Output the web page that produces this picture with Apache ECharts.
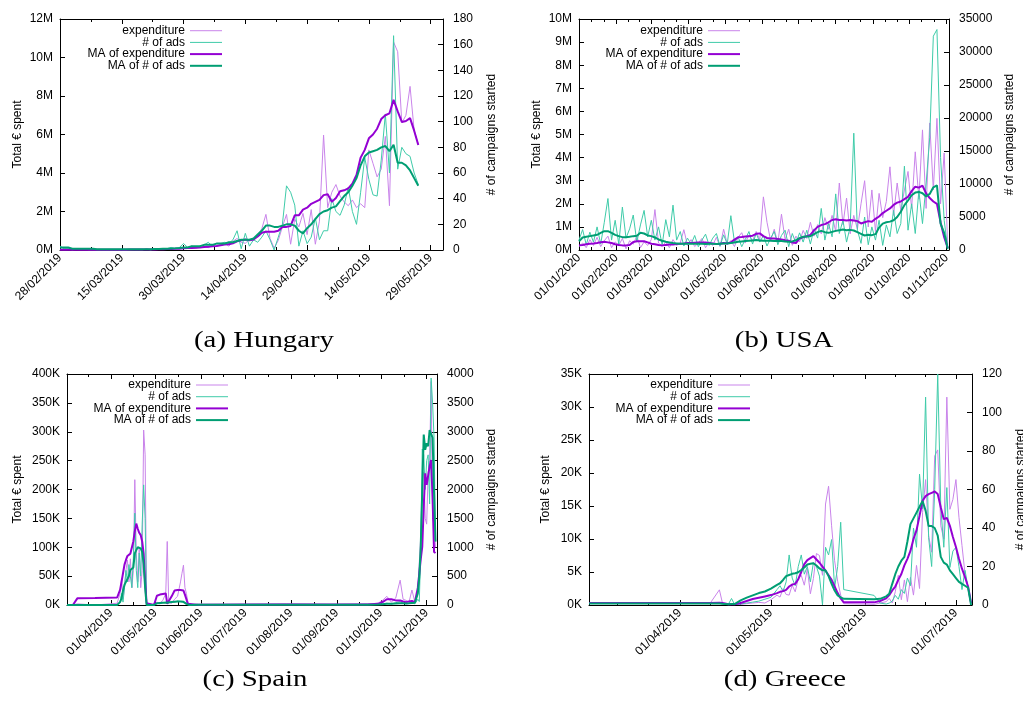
<!DOCTYPE html>
<html>
<head>
<meta charset="utf-8">
<script src="https://cdn.jsdelivr.net/npm/echarts@6/dist/echarts.min.js"></script>
<style>
  html, body { margin: 0; padding: 0; background: #fff; }
  #chart { width: 1023px; height: 711px; }
</style>
</head>
<body>
<div id="chart"></div>
<script>
// ---- (a) Hungary : daily from 28/02/2019, expenditure in M €, ads = # of campaigns
var huExp = [0.02,0.01,0.02,0.01,0.02,0.01,0.01,0.01,0.01,0.01,
  0.01,0.01,0.01,0.01,0.01,0.01,0.01,0.01,0.02,0.02,
  0.02,0.03,0.02,0.03,0.04,0.05,0.04,0.06,0.08,0.07,
  0.10,0.08,0.12,0.10,0.15,0.20,0.12,0.25,0.18,0.30,
  0.35,0.20,0.45,0.60,0.40,0.35,0.55,0.50,0.80,1.10,
  1.85,0.60,0.10,0.50,1.20,1.85,0.30,1.60,1.20,1.90,
  0.80,2.10,0.30,1.50,5.97,2.20,3.00,3.40,2.80,2.50,
  2.30,2.60,2.20,2.40,2.20,5.20,4.50,3.80,4.20,5.90,
  2.30,10.8,10.3,6.60,7.00,8.50,6.20,5.50];
var huAds = [3,1,1,0,1,1,1,0,0,0,
  0,0,0,0,0,0,0,0,0,0,
  0,1,0,1,1,1,1,2,1,2,
  5,2,3,2,3,4,6,3,5,5,
  6,5,8,15,1,13,3,8,6,10,
  15,8,0,10,20,50,45,35,3,15,
  5,10,25,8,15,15,40,30,27,35,
  49,30,20,45,72,55,43,42,70,106,
  60,167,63,80,75,73,60,51];
var huMaExp = [0.01,0.01,0.01,0.01,0.01,0.01,0.01,0.01,0.01,0.01,
  0.01,0.01,0.01,0.01,0.01,0.01,0.01,0.02,0.02,0.02,
  0.02,0.03,0.03,0.03,0.04,0.04,0.05,0.05,0.06,0.07,
  0.09,0.10,0.11,0.12,0.13,0.15,0.17,0.19,0.21,0.25,
  0.28,0.30,0.35,0.45,0.50,0.55,0.50,0.55,0.70,0.90,
  0.95,0.95,0.95,1.00,1.20,1.20,1.25,1.80,1.80,2.10,
  2.20,2.40,2.50,2.60,2.85,2.90,2.50,2.70,3.05,3.10,
  3.20,3.45,3.90,4.80,5.20,5.80,6.00,6.30,6.80,7.00,
  7.10,7.80,7.20,6.65,6.70,6.85,6.20,5.45];
var huMaAds = [2,2,2,1,1,1,1,1,1,0.5,
  0.5,0.5,0.5,0.5,0.5,0.5,0.5,0.5,0.5,0.5,
  0.5,0.5,0.5,0.8,0.8,1,1,1.2,1.3,1.5,
  2,2,3,3,3,4,4,4,5,5,
  5,6,6,7,8,8,8,9,12,15,
  19,19,18,18,19,20,20,19,15,13,
  17,20,24,28,30,31,33,34,38,42,
  45,50,56,66,73,76,77,78,80,81,
  77,82,68,68,66,62,56,50];

// ---- (b) USA : every 3rd day from 01/01/2020
var usExp = [0.15,0.30,0.10,0.45,0.20,0.55,0.15,0.40,0.60,0.10,
  0.35,0.20,0.50,0.05,0.40,0.25,0.60,0.10,0.35,0.20,
  0.45,1.75,0.30,0.15,0.35,0.10,0.45,0.20,0.30,0.88,
  0.20,0.45,0.15,0.30,0.50,0.10,0.35,0.20,0.55,0.15,
  0.90,0.25,0.40,0.15,0.55,0.75,0.30,0.65,0.40,0.80,
  0.45,2.30,1.20,0.40,0.90,0.30,1.55,0.45,0.90,0.20,
  0.60,0.35,0.85,0.50,1.20,0.60,1.10,0.70,1.40,0.90,
  1.50,0.80,2.90,1.10,2.25,0.70,1.50,0.90,2.00,3.00,
  1.00,2.60,0.80,2.45,1.40,2.10,3.60,1.50,2.90,1.70,
  2.60,3.40,1.80,4.25,2.20,5.20,1.80,5.50,2.60,5.70,
  2.00,4.20,0.10];
var usAds = [1500,3100,800,2700,1200,3500,900,4200,7800,1500,
  4500,900,6500,1800,3200,5300,1200,3800,6000,2000,
  4500,1500,3500,800,4600,2000,6800,1500,2800,600,
  1800,900,2200,500,1500,2400,700,1800,2500,600,
  2300,900,5200,1200,2000,500,1600,2800,900,2500,
  1200,2200,600,1800,2800,800,2200,3000,500,2500,
  1000,2600,1200,3000,900,3200,1800,6300,1500,4000,
  2000,8500,2500,4500,1200,3500,17700,3000,1000,5000,
  800,3500,1500,4500,700,3800,2000,6000,2500,4000,
  12700,3000,7000,2500,9000,4000,10000,17000,32400,33400,
  14000,4500,100];
var usMaExp = [0.20,0.22,0.25,0.27,0.28,0.30,0.34,0.36,0.33,0.30,
  0.25,0.22,0.20,0.20,0.22,0.35,0.38,0.38,0.38,0.33,
  0.27,0.25,0.22,0.20,0.22,0.24,0.24,0.26,0.27,0.28,
  0.30,0.30,0.31,0.32,0.32,0.32,0.30,0.28,0.26,0.27,
  0.30,0.28,0.33,0.45,0.55,0.56,0.58,0.60,0.62,0.70,
  0.72,0.60,0.52,0.50,0.50,0.48,0.46,0.42,0.40,0.32,
  0.30,0.50,0.55,0.60,0.65,0.85,1.00,1.08,1.12,1.20,
  1.30,1.33,1.30,1.30,1.28,1.30,1.28,1.25,1.15,1.20,
  1.25,1.22,1.35,1.45,1.60,1.70,1.80,1.95,2.05,2.10,
  2.20,2.30,2.55,2.74,2.70,2.79,2.45,2.25,2.10,2.00,
  1.20,0.55,0.08];
var usMaAds = [1300,1900,2000,2100,2200,2300,2600,2850,2850,2600,
  2300,2100,1950,1950,2000,2100,2150,2600,2500,2200,
  2100,1900,1600,1400,1250,1150,1050,1000,950,950,
  950,930,950,930,950,920,950,930,920,950,
  980,1000,1050,1150,1250,1300,1350,1400,1450,1500,
  1450,1400,1420,1400,1380,1400,1350,1300,1250,1300,
  1500,1800,2000,2050,2100,2400,2700,2900,2700,2600,
  2750,2900,3000,3100,3000,3050,2950,2700,2450,2200,
  2300,2250,2400,3400,4000,4200,4300,4500,5000,5800,
  6800,7500,8300,8700,8800,8600,8100,8500,9500,9800,
  4000,2600,200];

// ---- (c) Spain : days after 01/03/2019, expenditure in K €
var esDays = [1,5,8,20,35,
  37,38,39,40,41,42,43,44,45,46,47,48,49,50,51,52,53,54,55,56,
  60,62,64,66,68,69,70,72,74,76,78,79,80,81,82,83,84,
  90,120,150,180,205,
  212,215,218,221,224,227,229,231,233,235,237,
  238,239,240,241,242,243,244,245,246,247,248,249,250,251];
var esExp = [0,0,2,0,3,
  20,46,10,30,60,78,40,80,30,60,217,90,40,100,30,60,303,260,5,0,
  0,5,3,8,20,110,5,3,10,15,40,55,69,30,20,5,0,
  2,1,2,1,2,
  3,8,15,5,12,43,10,8,5,26,5,
  12,28,27,120,210,230,150,140,230,250,387,150,140,100];
var esAds = [0,0,0,0,0,
  50,200,50,300,600,400,700,500,300,800,1590,600,300,900,500,1400,2080,1500,0,0,
  10,30,20,40,50,30,40,60,50,70,60,80,50,40,30,10,0,
  5,3,5,3,5,
  8,20,30,15,40,60,30,20,25,40,20,
  50,100,60,1000,2700,2600,2000,2500,2600,1750,3930,3500,2900,1100];
var esMaExp = [0,0,11.5,12,13,
  26,40,55,70,78,85,88,89,92,110,128,141,132,125,121,110,89,40,3,0,
  0,16,18,19,20,2,0,15,25,26,26,26,25,18,10,2,0,
  0,1,1,1,1,
  2,5,10,10,8,8,6,5,6,7,5,
  8,30,55,80,101,170,228,208,224,240,251,186,92,90];
var esMaAds = [0,0,0,0,0,
  50,116,250,350,400,400,500,607,630,650,895,950,1000,1010,980,920,710,300,0,0,
  0,30,35,40,40,40,45,50,55,60,60,60,55,40,20,5,0,
  5,5,5,5,5,
  10,15,20,20,25,30,30,28,30,35,40,
  50,200,490,1040,2000,2950,2690,2800,2750,3030,3000,2900,1940,1100];

// ---- (d) Greece : days after 02/03/2019, expenditure in K €
var grDays = [0,10,20,30,40,43,44,46,47,48,50,52,54,56,58,60,62,
  63,64,65,66,67,68,69,70,71,72,73,74,75,76,77,78,79,80,81,82,83,84,
  94,96,98,
  99,100,101,102,103,104,105,106,107,108,109,110,111,112,113,114,115,116,117,118,119,120,121,122,123,124,125,126];
var grExp = [0.3,0.3,0.3,0.3,0.3,2.3,0.3,0.2,0.2,0.1,0.1,0.2,0.3,0.4,0.3,0.8,1.5,
  1.2,2.5,1.6,1.5,3.0,2.0,4.0,4.5,3.0,5.5,1.7,4.0,7.8,7.5,4.5,15.3,18.0,12.0,6.7,3.6,1.5,0.2,
  0.1,0.3,0.5,
  1.0,0.3,2.0,4.5,0.8,3.8,0.5,4.2,1.5,6.0,2.5,14.0,19.0,10.5,8.0,22.6,23.5,12.0,10.0,31.5,14.5,16.0,19.0,13.3,9.0,4.7,2.7,0.2];
var grAds = [0.8,0.8,0.8,0.8,0.8,1,0.5,0.5,3.4,0.3,0.5,1,1.5,2,3,4,8,
  10,7,12,26,14,10,20,26,16,20,12,22,20,15,0,30,26,34,9,20,43,8,
  5,1,0.5,
  1,2,5,3,8,6,14,10,40,30,68,50,108,35,20,60,120,51,30,61,19.5,28,30,20,8,18,9,0];
var grMaExp = [0.3,0.3,0.3,0.3,0.3,0.35,0.3,0.1,0.1,0.1,0.3,0.6,0.9,1.1,1.3,1.5,1.8,
  2.0,2.1,2.3,2.8,3.1,3.2,3.9,5.0,6.2,6.8,7.1,7.4,6.9,6.4,5.8,5.2,4.5,3.8,2.8,1.8,1.0,0.4,
  0.4,0.6,1.0,
  1.5,2.2,2.8,3.8,4.7,6.0,7.0,8.2,10.0,11.3,13.5,15.8,16.5,16.8,17.0,17.2,16.8,14.8,13.0,13.2,12.0,10.3,8.8,7.0,5.5,4.2,2.8,0.3];
var grMaAds = [0.8,0.8,0.8,0.8,0.8,0.8,0.6,0.4,0.5,0.5,2.4,3.8,5.0,6.2,7.0,8.5,10.5,
  11.3,13,15,15.6,16.2,16.5,17,18.2,19.5,21,21.4,21.7,20.5,19,18,18,15,11,7.5,5,4,3.2,
  3.0,3.2,4.5,
  5.8,11,16,20,23,25,33,42,45,48,51,54,49,41,41,40,36,25,22,21,18,16,14,12,11,10,9,0];

var seriesNames = ['expenditure', '# of ads', 'MA of expenditure', 'MA of # of ads'];

// ---------------------------------------------------------------
var DAY = 86400000;
var FONT = '"Liberation Sans", Arial, Helvetica, sans-serif';

function pad(n) { return n < 10 ? '0' + n : '' + n; }
function fmtDate(base, d) {
  var t = new Date(base + Math.round(d) * DAY);
  return pad(t.getUTCDate()) + '/' + pad(t.getUTCMonth() + 1) + '/' + t.getUTCFullYear();
}
function monthOffsets(base, y, m, n) {
  var r = [];
  for (var k = 0; k < n; k++) r.push((Date.UTC(y, m + k, 1) - base) / DAY);
  return r;
}
function subTicks(marks, parts, min, max) {
  var r = [];
  for (var i = 0; i < marks.length - 1; i++) {
    for (var k = 1; k < parts; k++) {
      var v = marks[i] + (marks[i + 1] - marks[i]) * k / parts;
      if (v > min && v < max) r.push(v);
    }
  }
  return r;
}
function pairs(days, vals) { return vals.map(function (v, i) { return [days[i], v]; }); }

var huBase = Date.UTC(2019, 1, 28), usBase = Date.UTC(2020, 0, 1);
var esBase = Date.UTC(2019, 2, 1), grBase = Date.UTC(2019, 2, 2);
var huDays = huExp.map(function (v, i) { return i; });
var usDays = usExp.map(function (v, i) { return i * 3; });
var huMajor = [0, 15, 30, 45, 60, 75, 90];
var usMajor = monthOffsets(usBase, 2020, 0, 11);
var esMajor = monthOffsets(esBase, 2019, 3, 8);
var grMajor = monthOffsets(grBase, 2019, 3, 4);

var panels = [
  { base: huBase, min: 0, max: 93, major: huMajor,
    minor: subTicks([-15].concat(huMajor, [105]), 2, 0, 93),
    grid: { left: 60, top: 19, width: 383, height: 231 },
    yl: { max: 12, interval: 2, unit: 'M', gap: 36 }, yr: { max: 180, interval: 20, gap: 43 },
    legendRight: 801, legendTop: 31.7, caption: '(a) Hungary', capX: 264, capY: 341,
    days: huDays, vals: [huExp, huAds, huMaExp, huMaAds] },
  { base: usBase, min: 0, max: 307, major: usMajor,
    minor: subTicks(usMajor.concat(monthOffsets(usBase, 2020, 11, 1)), 3, 0, 307),
    grid: { left: 579, top: 19, width: 370, height: 231 },
    yl: { max: 10, interval: 1, unit: 'M', gap: 36 }, yr: { max: 35000, interval: 5000, gap: 55 },
    legendRight: 283, legendTop: 31.7, caption: '(b) USA', capX: 784, capY: 341,
    days: usDays, vals: [usExp, usAds, usMaExp, usMaAds] },
  { base: esBase, min: 1, max: 252, major: esMajor,
    minor: subTicks([0].concat(esMajor, monthOffsets(esBase, 2019, 11, 1)), 2, 1, 252),
    grid: { left: 67, top: 374, width: 370, height: 231 },
    yl: { max: 400, interval: 50, unit: 'K', gap: 43 }, yr: { max: 4000, interval: 500, gap: 49 },
    legendRight: 795, legendTop: 386, caption: '(c) Spain', capX: 255, capY: 680,
    days: esDays, vals: [esExp, esAds, esMaExp, esMaAds] },
  { base: grBase, min: 0, max: 126.3, major: grMajor,
    minor: subTicks([-1].concat(grMajor, monthOffsets(grBase, 2019, 7, 1)), 3, 0, 126.3),
    grid: { left: 589, top: 374, width: 383, height: 231 },
    yl: { max: 35, interval: 5, unit: 'K', gap: 37 }, yr: { max: 120, interval: 20, gap: 43 },
    legendRight: 273, legendTop: 386, caption: '(d) Greece', capX: 785, capY: 680,
    days: grDays, vals: [grExp, grAds, grMaExp, grMaAds] }
];

var lineStyles = [
  { color: '#c984ea', width: 1, y: 0 },
  { color: '#3fcba9', width: 1, y: 1 },
  { color: '#9400d3', width: 2, y: 0 },
  { color: '#009e73', width: 2, y: 1 }
];

var option = {
  animation: false,
  backgroundColor: '#fff',
  grid: [], xAxis: [], yAxis: [], series: [], legend: [], graphic: []
};

panels.forEach(function (p, pi) {
  // keep the plot box exactly where it is, even if the axis name runs off the page
  var g = Object.assign({ outerBoundsMode: 'none', containLabel: false }, p.grid);
  option.grid.push(g);

  function xa(pos, vals, len, labels, line) {
    return {
      type: 'value', gridIndex: pi, position: pos, min: p.min, max: p.max,
      axisLine: { show: line, onZero: false, lineStyle: { color: '#000', width: 1 } },
      axisTick: { show: true, inside: true, length: len, customValues: vals, lineStyle: { color: '#000', width: 1 } },
      axisLabel: {
        show: labels, customValues: vals, rotate: 45, margin: 6,
        color: '#000', fontSize: 12, fontFamily: FONT,
        formatter: function (v) { return fmtDate(p.base, v); }
      },
      splitLine: { show: false }
    };
  }
  option.xAxis.push(
    xa('bottom', p.major, 5, true, true),
    xa('bottom', p.minor, 3, false, false),
    xa('top', p.major, 5, false, true),
    xa('top', p.minor, 3, false, false)
  );

  function ya(pos, c, left) {
    return {
      type: 'value', gridIndex: pi, position: pos, min: 0, max: c.max, interval: c.interval,
      axisLine: { show: true, onZero: false, lineStyle: { color: '#000', width: 1 } },
      axisTick: { show: true, inside: true, length: 5, lineStyle: { color: '#000' } },
      axisLabel: {
        margin: left ? 7 : 10, color: '#000', fontSize: 12, fontFamily: FONT,
        formatter: function (v) { return left ? v + c.unit : String(v); }
      },
      splitLine: { show: false },
      name: left ? 'Total € spent' : '# of campaigns started',
      nameLocation: 'middle', nameRotate: 90, nameGap: c.gap,
      nameTextStyle: { color: '#000', fontSize: 12, fontFamily: FONT }
    };
  }
  option.yAxis.push(ya('left', p.yl, true), ya('right', p.yr, false));

  lineStyles.forEach(function (s, si) {
    option.series.push({
      type: 'line', name: seriesNames[si],
      xAxisIndex: pi * 4, yAxisIndex: pi * 2 + s.y,
      data: pairs(p.days, p.vals[si]),
      symbol: 'none', showSymbol: false, silent: true, z: 2 + si,
      lineStyle: { color: s.color, width: s.width },
      itemStyle: { color: s.color }
    });
    // one legend per row so that the line samples line up on the right
    option.legend.push({
      right: p.legendRight, top: p.legendTop + si * 11.7 - 7,
      orient: 'horizontal', align: 'right', padding: 0,
      icon: 'rect', itemWidth: 32, itemHeight: s.width, selectedMode: false,
      data: [seriesNames[si]],
      textStyle: { color: '#000', fontSize: 12, fontFamily: FONT }
    });
  });

  option.graphic.push({
    type: 'text', x: p.capX, y: p.capY, scaleX: 1.2,
    style: {
      text: p.caption, fill: '#000', fontSize: 24,
      fontFamily: '"Liberation Serif", "Times New Roman", serif',
      align: 'center', verticalAlign: 'middle'
    }
  });
});

var myChart = echarts.init(document.getElementById('chart'));
myChart.setOption(option);
window.addEventListener('resize', function () { myChart.resize(); });
</script>
</body>
</html>
